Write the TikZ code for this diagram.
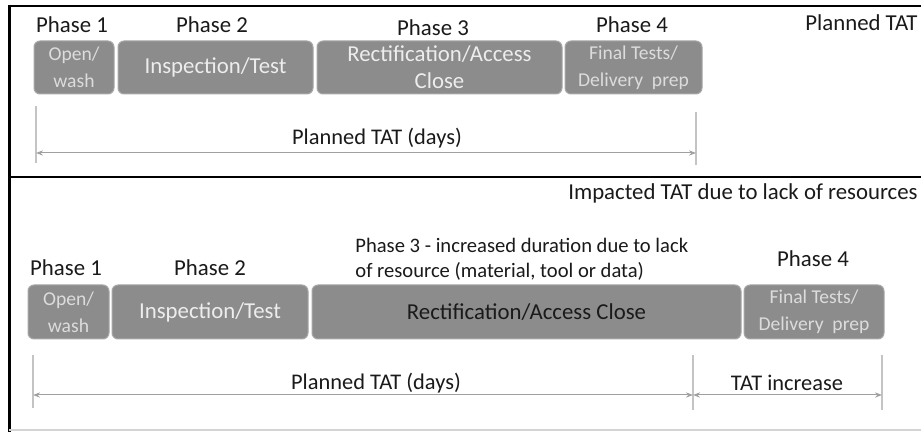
\documentclass[tikz,border=0pt]{standalone}
\usepackage{fontspec}
\setmainfont{Carlito}
\usetikzlibrary{arrows.meta}
\definecolor{boxfill}{HTML}{8C8C8C}
\definecolor{boxedge}{HTML}{A8A8A8}
\definecolor{boxtext}{HTML}{EDEDED}
\definecolor{boxtextsoft}{HTML}{DCDCDC}
\definecolor{labeltext}{HTML}{1A1A1A}
\definecolor{dimgray}{HTML}{A0A0A0}
\definecolor{tickgray}{HTML}{C4C4C4}
\definecolor{framegray}{HTML}{D4D4D4}
\tikzset{
  pbox/.style={draw=boxedge, line width=0.5pt, fill=boxfill, rounded corners=3pt,
    inner sep=0pt, align=center, text=boxtext, font=\fontsize{11.4}{13.5}\selectfont},
  smallbox/.style={pbox, text=boxtextsoft, font=\fontsize{9.8}{13.5}\selectfont},
  phaselabel/.style={text=labeltext, font=\fontsize{11.4}{13}\selectfont, inner sep=0pt},
  dimlabel/.style={text=labeltext, font=\fontsize{11.2}{13}\selectfont, inner sep=0pt},
  dimline/.style={draw=dimgray, line width=0.5pt,
    {Stealth[length=3.5pt,width=2.6pt]}-{Stealth[length=3.5pt,width=2.6pt]}},
  tickline/.style={draw=tickgray, line width=0.8pt},
  frameline/.style={draw=black, line width=1.1pt}
}
\begin{document}
\begin{tikzpicture}[x=0.5pt, y=-0.5pt]
\clip (0,0) rectangle (921,432);
\useasboundingbox (0,0) rectangle (921,432);
\fill[white] (0,0) rectangle (921,432);

% frame
\coordinate (ftl) at (8,6);
\coordinate (ftr) at (921,6);
\coordinate (fbl) at (9,432);
\coordinate (fdl) at (8,177);
\coordinate (fdr) at (921,177);
\coordinate (fbl2) at (9,430);
\coordinate (fbr2) at (921,430);
\draw[frameline] (ftl) -- (ftr);
\draw[frameline, line width=1.5pt] (9,6) -- (fbl);
\draw[frameline, line width=1.3pt] (fdl) -- (fdr);
\draw[draw=framegray, line width=0.6pt] (fbl2) -- (fbr2);

% ---------- top section ----------
\node[phaselabel] (tp1) at (72,25) {Phase 1};
\node[phaselabel] (tp2) at (212,25) {Phase 2};
\node[phaselabel] (tp3) at (433,28) {Phase 3};
\node[phaselabel] (tp4) at (632,25) {Phase 4};
\node[phaselabel, anchor=east] (tplan) at (918,23) {Planned TAT};

\node[smallbox, minimum width=40pt, minimum height=26.5pt] (ta1) at (74,67.5) {Open/\\wash};
\node[pbox, minimum width=97.5pt, minimum height=26.5pt] (ta2) at (215.5,67.5) {Inspection/Test};
\node[pbox, minimum width=122.5pt, minimum height=26.5pt] (ta3) at (439.5,67.5) {Rectification/Access\\Close};
\node[smallbox, minimum width=68.5pt, minimum height=26.5pt] (ta4) at (633.5,67.5) {Final Tests/\\Delivery\ \ prep};

\coordinate (ttl1) at (36,106);
\coordinate (ttl2) at (36,163);
\coordinate (ttr1) at (696,112);
\coordinate (ttr2) at (696,165);
\coordinate (tal) at (36,153);
\coordinate (tar) at (696,153);
\draw[tickline] (ttl1) -- (ttl2);
\draw[tickline] (ttr1) -- (ttr2);
\draw[dimline] (tal) -- (tar);
\node[dimlabel] (tdl) at (377,138) {Planned TAT (days)};

% ---------- bottom section ----------
\node[phaselabel, anchor=east] (bimp) at (918,193) {Impacted TAT due to lack of resources};
\node[text=labeltext, font=\fontsize{10.3}{12.5}\selectfont, align=left, anchor=north west, inner sep=0pt]
  (bp3) at (355,238) {Phase 3 - increased duration due to lack\\of resource (material, tool or data)};
\node[phaselabel] (bp1) at (66,268) {Phase 1};
\node[phaselabel] (bp2) at (210,268) {Phase 2};
\node[phaselabel] (bp4) at (813,259) {Phase 4};

\node[smallbox, minimum width=40.5pt, minimum height=27pt] (bb1) at (68.5,312) {Open/\\wash};
\node[pbox, minimum width=98pt, minimum height=27pt] (bb2) at (210,312) {Inspection/Test};
\node[pbox, minimum width=214.5pt, minimum height=27pt, text=labeltext] (bb3) at (526.5,312) {Rectification/Access Close};
\node[smallbox, minimum width=70pt, minimum height=27pt] (bb4) at (814,312) {Final Tests/\\Delivery\ \ prep};

\coordinate (btl1) at (33,355);
\coordinate (btl2) at (33,408);
\coordinate (btm1) at (693,355);
\coordinate (btm2) at (693,410);
\coordinate (btr1) at (882,355);
\coordinate (btr2) at (882,410);
\coordinate (bal) at (33,395);
\coordinate (bam) at (693,395);
\coordinate (bar) at (882,395);
\draw[tickline] (btl1) -- (btl2);
\draw[tickline] (btm1) -- (btm2);
\draw[tickline] (btr1) -- (btr2);
\draw[dimline] (bal) -- (bam);
\draw[dimline] (bam) -- (bar);
\node[dimlabel] (bdl) at (376,383) {Planned TAT (days)};
\node[dimlabel] (bti) at (787,383) {TAT increase};
\end{tikzpicture}
\end{document}
